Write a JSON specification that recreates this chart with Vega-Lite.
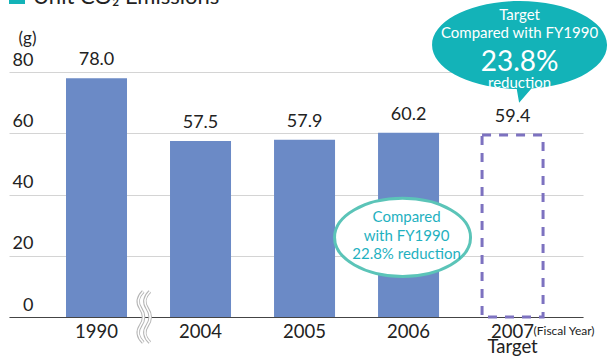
{
  "$schema": "https://vega.github.io/schema/vega-lite/v6.json",
  "width": 574,
  "height": 245,
  "autosize": "none",
  "padding": {"left": 9, "top": 72, "right": 26, "bottom": 39},
  "background": "white",
  "config": {"view": {"stroke": null}, "font": "Lato", "text": {"font": "Lato"}},
  "data": {"values": [
    {"year": "1990", "value": 78.0, "type": "actual"},
    {"year": "2004", "value": 57.5, "type": "actual"},
    {"year": "2005", "value": 57.9, "type": "actual"},
    {"year": "2006", "value": 60.2, "type": "actual"},
    {"year": "2007", "value": 59.4, "type": "target"}
  ]},
  "encoding": {
    "x": {
      "field": "year", "type": "nominal",
      "scale": {"domain": ["1990", "2004", "2005", "2006", "2007"], "paddingInner": 0.4135, "paddingOuter": 0.466, "align": 0.588},
      "axis": {
        "title": null, "domainColor": "#444", "domainWidth": 1,
        "ticks": false, "tickSize": 0, "labelFontSize": 18.5, "labelColor": "#222",
        "labelPadding": 5, "labelAngle": 0, "labelLineHeight": 15, "labelFont": "Lato",
        "labelExpr": "datum.value == '2007' ? ['2007', 'Target'] : datum.value"
      }
    },
    "y": {
      "field": "value", "type": "quantitative",
      "scale": {"domain": [0, 80], "nice": false},
      "axis": {
        "title": "(g)", "titleAngle": 0, "titleX": 18, "titleY": -29,
        "titleAlign": "center", "titleBaseline": "alphabetic", "titleFontSize": 17,
        "titleFontWeight": "normal", "titleColor": "#222", "titleFont": "Lato",
        "values": [0, 20, 40, 60, 80], "grid": true, "gridColor": "#d4d4d4", "gridWidth": 1.2,
        "domain": false, "ticks": false, "tickSize": 0,
        "labelAlign": "right", "labelPadding": -24, "labelBaseline": "alphabetic",
        "labelOffset": -7, "labelFontSize": 18, "labelColor": "#222", "labelFont": "Lato"
      }
    }
  },
  "layer": [
    {
      "transform": [{"filter": "datum.type == 'actual'"}],
      "mark": {"type": "bar", "color": "#6b8ac6"}
    },
    {
      "transform": [{"filter": "datum.type == 'target'"}],
      "mark": {"type": "bar", "fill": "transparent", "stroke": "#7d72c0", "strokeWidth": 3, "strokeDash": [9, 8]}
    },
    {
      "mark": {"type": "text", "dy": -13, "baseline": "alphabetic", "fontSize": 18, "color": "#222"},
      "encoding": {"text": {"field": "value", "type": "quantitative", "format": ".1f"}}
    },
    {
      "data": {"values": [{"year": "1990", "value": 0}]},
      "mark": {"type": "point", "shape": "M-0.03,-1C-0.28,-0.75,-0.28,-0.55,-0.13,-0.33C0.02,-0.11,0.02,0.11,-0.13,0.33C-0.28,0.55,-0.28,0.75,-0.03,1M0.23,-1C-0.02,-0.75,-0.02,-0.55,0.13,-0.33C0.28,-0.11,0.28,0.11,0.13,0.33C-0.02,0.55,-0.02,0.75,0.23,1", "filled": false, "stroke": "#b5b5b5", "strokeWidth": 3.5, "size": 2601, "xOffset": 47.5, "opacity": 1}
    },
    {
      "data": {"values": [{"year": "1990", "value": 0}]},
      "mark": {"type": "point", "shape": "M-0.03,-1C-0.28,-0.75,-0.28,-0.55,-0.13,-0.33C0.02,-0.11,0.02,0.11,-0.13,0.33C-0.28,0.55,-0.28,0.75,-0.03,1M0.23,-1C-0.02,-0.75,-0.02,-0.55,0.13,-0.33C0.28,-0.11,0.28,0.11,0.13,0.33C-0.02,0.55,-0.02,0.75,0.23,1", "filled": false, "stroke": "#ffffff", "strokeWidth": 1.5, "size": 2601, "xOffset": 47.5, "opacity": 1}
    },
    {
      "data": {"values": [{"year": "2006", "value": 26}]},
      "mark": {"type": "point", "shape": "M-1,0C-1,-0.317,-0.552,-0.574,0,-0.574C0.552,-0.574,1,-0.317,1,0C1,0.317,0.552,0.574,0,0.574C-0.552,0.574,-1,0.317,-1,0Z", "filled": true, "fill": "#ffffff", "stroke": "#5bc4b8", "strokeWidth": 3, "size": 18496, "xOffset": -6, "opacity": 1}
    },
    {
      "data": {"values": [{"year": "2006", "value": 26, "note": ["Compared", "with FY1990", "22.8% reduction"]}]},
      "mark": {"type": "text", "lineHeight": 18.5, "fontSize": 15, "color": "#1fb1bf", "dx": -2, "dy": -15, "baseline": "alphabetic", "align": "center"},
      "encoding": {"text": {"field": "note"}}
    },
    {
      "data": {"values": [{"year": "2007", "value": 88.8}]},
      "mark": {"type": "point", "shape": "M-1,0C-1,-0.278,-0.552,-0.503,0,-0.503C0.552,-0.503,1,-0.278,1,0C1,0.278,0.552,0.503,0,0.503C-0.552,0.503,-1,0.278,-1,0Z M-0.05,0.4L0.22,0.4L-0.005,0.66Z", "filled": true, "fill": "#13b3b8", "strokeWidth": 0, "size": 30625, "xOffset": 7, "opacity": 1}
    },
    {
      "data": {"values": [{"year": "2007", "value": 88.8, "note": ["Target", "Compared with FY1990"]}]},
      "mark": {"type": "text", "lineHeight": 18, "fontSize": 15, "color": "#ffffff", "dx": 7, "dy": -25, "baseline": "alphabetic", "align": "center"},
      "encoding": {"text": {"field": "note"}}
    },
    {
      "data": {"values": [{"year": "2007", "value": 88.8, "note": "23.8%"}]},
      "mark": {"type": "text", "fontSize": 28, "color": "#ffffff", "dx": 7, "dy": 26, "baseline": "alphabetic", "align": "center"},
      "encoding": {"text": {"field": "note"}}
    },
    {
      "data": {"values": [{"year": "2007", "value": 88.8, "note": "reduction"}]},
      "mark": {"type": "text", "fontSize": 15, "color": "#ffffff", "dx": 7, "dy": 43, "baseline": "alphabetic", "align": "center"},
      "encoding": {"text": {"field": "note"}}
    },
    {
      "data": {"values": [{"year": "2007", "value": 0, "note": "(Fiscal Year)"}]},
      "mark": {"type": "text", "fontSize": 12, "color": "#222", "dx": 21, "dy": 18, "baseline": "alphabetic", "align": "left"},
      "encoding": {"text": {"field": "note"}}
    },
    {
      "data": {"values": [{"year": "1990", "value": 80}]},
      "mark": {"type": "point", "shape": "square", "filled": true, "color": "#13b3b8", "size": 256, "xOffset": -79.5, "yOffset": -76, "opacity": 1}
    },
    {
      "data": {"values": [{"year": "1990", "value": 80, "note": "Unit CO₂ Emissions"}]},
      "mark": {"type": "text", "fontSize": 22, "color": "#222", "dx": -63.5, "dy": -68, "baseline": "alphabetic", "align": "left"},
      "encoding": {"text": {"field": "note"}}
    }
  ]
}
